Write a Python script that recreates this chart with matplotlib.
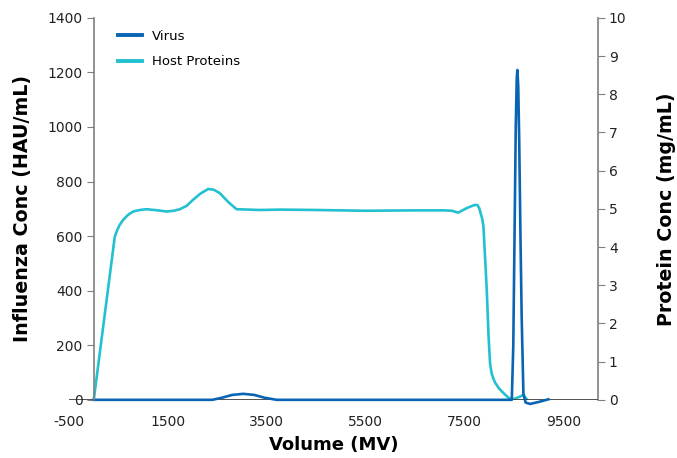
import matplotlib
matplotlib.use("Agg")
import matplotlib.pyplot as plt

# virus (left axis, HAU/mL)
virus_vol = [0, 2400, 2600, 2800, 3025, 3250, 3450, 3700, 8460, 8490, 8515, 8540, 8560,
             8573, 8590, 8610, 8635, 8660, 8695, 8740, 8830, 9000, 9200]
virus_conc = [0, 0, 8, 18, 22, 18, 8, 0, 0, 200, 600, 1000, 1180,
              1209, 1150, 950, 600, 300, 20, -10, -15, -8, 2]

# host proteins (right axis, mg/mL)
host_vol = [0, 425, 470, 520, 593, 700, 797, 930, 1067, 1300, 1472, 1620, 1742, 1880, 2012,
            2160, 2316, 2430, 2552, 2720, 2890, 3362, 3767, 4500, 5500, 6500, 7100,
            7250, 7372, 7550, 7700, 7763, 7800, 7830, 7860, 7885, 7920, 7953, 7990, 8020,
            8050, 8080, 8122, 8200, 8289, 8380, 8460, 8600, 8695, 8770]
host_conc = [0, 4.27, 4.43, 4.57, 4.71, 4.85, 4.93, 4.97, 4.99, 4.96, 4.93, 4.95, 4.99, 5.08, 5.24,
             5.40, 5.52, 5.50, 5.41, 5.18, 4.99, 4.97, 4.98, 4.97, 4.95, 4.96, 4.96,
             4.95, 4.90, 5.02, 5.10, 5.10, 5.02, 4.88, 4.75, 4.55, 3.70, 2.88, 1.65, 0.95,
             0.70, 0.58, 0.45, 0.30, 0.18, 0.07, 0.0, 0.07, 0.13, 0]

xticks = [-500, 1500, 3500, 5500, 7500, 9500]

virus_color = "#0a64b4"
host_color = "#22c0d0"
grey = "#7f7f7f"

fig = plt.figure(figsize=(6.77, 4.58), dpi=100)
ax = fig.add_axes([0.102, 0.127, 0.781, 0.834])
ax2 = ax.twinx()

ax2.plot(host_vol, host_conc, color=host_color, lw=1.9, label="Host Proteins",
         solid_joinstyle="round")
ax.plot(virus_vol, virus_conc, color=virus_color, lw=1.9, label="Virus",
        solid_joinstyle="round", clip_on=False)

ax.set_zorder(ax2.get_zorder() + 1)
ax.patch.set_visible(False)

ax.set_xlim(-500, 10200)
ax.set_ylim(0, 1400)
ax.set_yticks(range(0, 1401, 200))
ax2.set_ylim(0, 10)
ax2.set_yticks(range(0, 11))
ax.set_xticks(xticks)
ax.set_xticklabels([str(t) for t in xticks])

for a in (ax, ax2):
    for s in a.spines.values():
        s.set_visible(False)
    a.tick_params(labelsize=10, colors="#222222")

ax.spines["left"].set_visible(True)
ax.spines["left"].set_position(("data", 0))
ax.spines["left"].set_color(grey)
ax.spines["left"].set_linewidth(1.2)
ax2.spines["right"].set_visible(True)
ax2.spines["right"].set_color(grey)
ax2.spines["right"].set_linewidth(1.2)
ax.axhline(0, color="#333333", lw=1.2, zorder=0.5)

ax.tick_params(axis="y", direction="out", length=5, color=grey, pad=3)
ax2.tick_params(axis="y", direction="out", length=5, color=grey, pad=3)
ax.tick_params(axis="x", length=0, pad=11)

ax.set_xlabel("Volume (MV)", fontsize=13, fontweight="bold", labelpad=5)
ax.set_ylabel("Influenza Conc (HAU/mL)", fontsize=13.7, fontweight="bold", labelpad=11)
ax2.set_ylabel("Protein Conc (mg/mL)", fontsize=13.7, fontweight="bold", labelpad=22)

h1, l1 = ax.get_legend_handles_labels()
h2, l2 = ax2.get_legend_handles_labels()
leg = ax.legend(h1 + h2, l1 + l2, loc="upper left", bbox_to_anchor=(0.07, 1.0),
                frameon=False, fontsize=9.5, handlelength=1.8, labelspacing=0.95)
for line in leg.get_lines():
    line.set_linewidth(2.8)

fig.savefig("out.png", dpi=100)
